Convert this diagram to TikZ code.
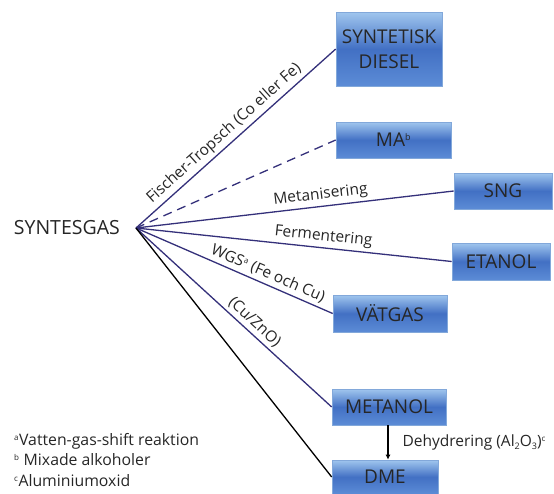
\documentclass[tikz,border=0pt]{standalone}
\usepackage{fontspec}
\setmainfont{Open Sans}
\usetikzlibrary{arrows.meta,positioning}

\definecolor{routeblue}{RGB}{52,48,122}
\definecolor{boxtop}{RGB}{160,198,238}
\definecolor{boxmid}{RGB}{66,112,196}
\definecolor{boxbot}{RGB}{92,140,214}
\definecolor{boxline}{RGB}{130,168,218}

\begin{document}
\begin{tikzpicture}[x=1pt, y=-1pt, font=\fontsize{15.5}{18}\selectfont]

% Styles
\tikzset{
  product/.style={
    draw=boxline,
    line width=0.6pt,
    rectangle,
    top color=boxtop,
    bottom color=boxbot,
    middle color=boxmid,
    text=black!85,
    font=\fontsize{19}{25}\selectfont,
    align=center,
    inner sep=0pt
  },
  route/.style={
    draw=routeblue,
    line width=1.3pt
  },
  edgelabel/.style={
    sloped,
    above,
    inner sep=3pt,
    text=black!85
  }
}

\useasboundingbox (0,0) rectangle (554,493);

% Source
\coordinate (hub) at (136,228);
\node[left=16pt of hub, anchor=east, font=\fontsize{19.5}{22}\selectfont, text=black!85, inner sep=0pt] (syngas) {SYNTESGAS};

% Products
\node[product, minimum width=106pt, minimum height=74pt] (diesel) at (389,49) {SYNTETISK\\DIESEL};
\node[product, minimum width=115pt, minimum height=36pt] (ma) at (393.5,140) {MA\textsuperscript{\fontsize{9}{9}\selectfont b}};
\node[product, minimum width=98pt, minimum height=36pt] (sng) at (503,191) {SNG};
\node[product, minimum width=98pt, minimum height=37pt] (etanol) at (501,261.5) {ETANOL};
\node[product, minimum width=114pt, minimum height=37pt] (vatgas) at (390,313.5) {VÄTGAS};
\node[product, minimum width=114pt, minimum height=36pt] (metanol) at (389,407) {METANOL};
\node[product, minimum width=106pt, minimum height=34pt] (dme) at (385,477) {DME};

% Routes
\draw[route] (hub) -- (diesel.west) node[edgelabel, pos=0.48] {Fischer-Tropsch (Co eller Fe)};
\draw[route, dashed, dash pattern=on 9pt off 6pt] (hub) -- (ma.west);
\draw[route] (hub) -- (sng.west) node[edgelabel, pos=0.585] {Metanisering};
\draw[route] (hub) -- (etanol.west) node[edgelabel, pos=0.59] {Fermentering};
\draw[route] (hub) -- (vatgas.west) node[edgelabel, pos=0.65] {WGS\textsuperscript{\fontsize{8}{8}\selectfont a} (Fe och Cu)};
\draw[route] (hub) -- (metanol.west) node[edgelabel, pos=0.57] {(Cu/ZnO)};
\draw[line width=1.3pt, black] (hub) -- (dme.west);

% Dehydration step
\draw[line width=1.1pt, -{Latex[length=5pt,width=5pt]}] (metanol.south -| 388,0) -- (dme.north -| 388,0)
  node[midway, right=14pt, text=black!85, inner sep=0pt] {Dehydrering (Al\raisebox{-3pt}{\fontsize{9}{9}\selectfont 2}O\raisebox{-3pt}{\fontsize{9}{9}\selectfont 3})\textsuperscript{\fontsize{8}{8}\selectfont c}};

% Footnotes
\node[anchor=west, align=left, text=black!85, font=\fontsize{15.8}{20.5}\selectfont, inner sep=0pt] (notes) at (14,460)
  {\textsuperscript{\fontsize{8}{8}\selectfont a}Vatten-gas-shift reaktion\\
   \textsuperscript{\fontsize{8}{8}\selectfont b} Mixade alkoholer\\
   \textsuperscript{\fontsize{8}{8}\selectfont c}Aluminiumoxid};

\end{tikzpicture}
\end{document}
